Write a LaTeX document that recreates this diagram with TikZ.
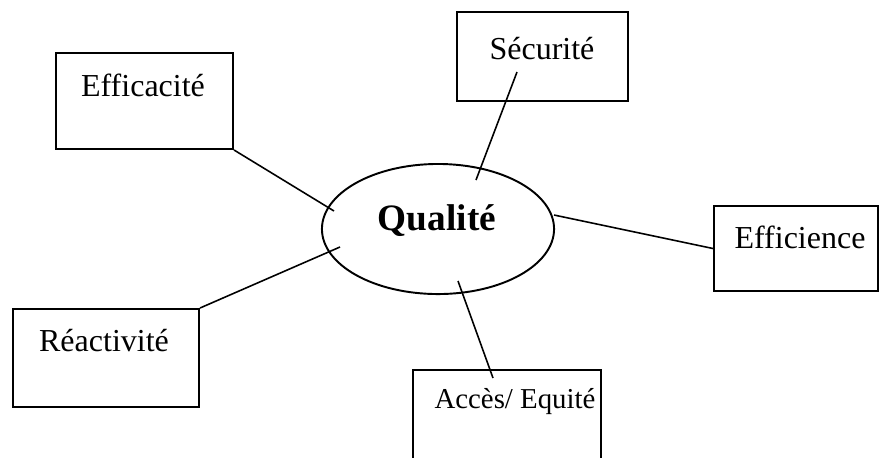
\documentclass[tikz,border=0pt]{standalone}
\usepackage{fontspec}
\setmainfont{Liberation Serif}
\usetikzlibrary{shapes.geometric}
\definecolor{traitnoir}{RGB}{0, 0, 0}

\begin{document}
\begin{tikzpicture}[x=0.01cm, y=-0.01cm,
    cadre/.style={draw=traitnoir, line width=0.55pt, inner sep=0pt},
    mot/.style={font=\fontsize{9.1}{11}\selectfont, inner sep=0pt, anchor=base},
    lien/.style={draw=traitnoir, line width=0.45pt}]
	\useasboundingbox (0,0) rectangle (879,457);
	\node[cadre, ellipse, minimum width=2.32cm, minimum height=1.30cm] (qualite) at (438,229) {};
	\node[mot, font=\fontsize{10.6}{12}\selectfont\bfseries] (tqualite) at (437,230) {Qualité};
	\node[cadre, minimum width=1.77cm, minimum height=0.96cm] (efficacite) at (144.5,101) {};
	\node[mot] (tefficacite) at (143,96) {Efficacité};
	\node[cadre, minimum width=1.71cm, minimum height=0.89cm] (securite) at (542.5,56.5) {};
	\node[mot] (tsecurite) at (542,59) {Sécurité};
	\node[cadre, minimum width=1.64cm, minimum height=0.85cm] (efficience) at (796,248.5) {};
	\node[mot] (tefficience) at (800,248) {Efficience};
	\node[cadre, minimum width=1.86cm, minimum height=0.98cm] (reactivite) at (106,358) {};
	\node[mot] (treactivite) at (104,351) {Réactivité};
	\node[cadre, minimum width=1.88cm, minimum height=1.10cm] (acces) at (507,425) {};
	\node[mot, font=\fontsize{8.2}{10}\selectfont] (tacces) at (515,408) {Accès/ Equité};
	\coordinate (qa) at (334,211);
	\coordinate (qb) at (476,180);
	\coordinate (qc) at (554,215);
	\coordinate (qd) at (340,247);
	\coordinate (qe) at (458,281);
	\coordinate (sa) at (517,72);
	\coordinate (ac) at (493,378);
	\draw[lien] (efficacite.south east) -- (qa);
	\draw[lien] (sa) -- (qb);
	\draw[lien] (qc) -- (efficience.west);
	\draw[lien] (reactivite.north east) -- (qd);
	\draw[lien] (qe) -- (ac);
\end{tikzpicture}
\end{document}
